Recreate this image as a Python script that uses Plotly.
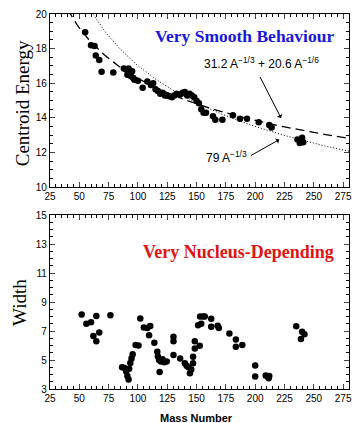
import plotly.graph_objects as go

# ---- data ----
centroid_A = [55, 60, 63, 64, 67, 69, 79,
              88, 90, 91, 92, 93, 94, 95, 96, 97, 100, 104,
              108, 111, 113, 115, 117, 119, 121, 123, 125, 127, 129, 131, 133,
              136, 138, 140, 142, 144, 146, 148, 150, 152, 154, 156, 158,
              164, 166, 172, 181, 187, 193, 203, 212, 214,
              236, 238, 240, 241]
centroid_E = [18.95, 18.2, 18.15, 17.6, 17.35, 16.67, 16.62,
              16.85, 16.8, 16.5, 16.85, 16.6, 16.4, 16.7, 16.3, 16.2, 16.15, 15.75,
              16.1, 15.9, 16.0, 15.65, 15.55, 15.4, 15.45, 15.3, 15.3, 15.25, 15.2, 15.3, 15.4,
              15.35, 15.45, 15.5, 15.3, 15.4, 15.3, 15.2, 15.0, 14.85, 14.5, 14.3, 14.3,
              14.1, 13.9, 13.9, 14.15, 13.95, 13.95, 13.75, 13.6, 13.45,
              12.75, 12.55, 12.85, 12.6]

width_A = [52, 56, 60, 62, 64.5, 64.5, 67, 76.5,
           86.5, 88.5, 90, 91, 92, 92.5, 93.5, 94.5, 95.5, 98, 100.5,
           102, 105, 108, 110.5, 109.5, 114, 116.5, 117, 118, 119.5, 121, 122.5, 124.5, 118.5,
           130.3, 130.3, 130.3, 136,
           140, 141.5, 143, 144.3, 145.5, 147, 147, 148.5, 148.5, 151.3, 152.7, 154, 153, 155.5, 157,
           162.5, 162.5, 168, 169, 178, 183.5, 183.5, 189,
           200, 200, 209, 210.5, 211.5, 212,
           235, 240, 242, 239]
width_W = [8.14, 7.5, 7.6, 6.65, 8.03, 6.3, 6.9, 8.08,
           4.5, 4.45, 4.2, 3.9, 3.65, 4.4, 4.8, 5.1, 5.4, 6.03, 6.0,
           7.86, 7.24, 7.2, 7.35, 6.71, 6.19, 5.57, 5.25, 5.0, 4.9, 5.05, 4.85, 4.9, 4.18,
           6.6, 6.3, 5.34, 5.1,
           4.77, 4.6, 4.5, 4.09, 4.35, 4.77, 5.23, 5.8, 6.3, 7.4, 5.98, 7.5, 8.0, 8.0, 8.0,
           7.85, 7.3, 7.37, 7.2, 6.83, 6.42, 5.91, 6.03,
           4.62, 3.86, 3.93, 3.86, 3.75, 3.9,
           7.33, 6.94, 6.78, 6.44]

# fit-curve coefficients as printed on the chart
fit_a, fit_b = 31.2, 20.6      # 31.2 A^-1/3 + 20.6 A^-1/6
fit_c = 79                     # 79 A^-1/3
curve_A = list(range(40, 285, 2))

x_ticks = [25, 50, 75, 100, 125, 150, 175, 200, 225, 250, 275]
top_y_ticks = [10, 12, 14, 16, 18, 20]
bot_y_ticks = [3, 5, 7, 9, 11, 13, 15]

# ---- figure ----
dashed = [fit_a * a ** (-1 / 3) + fit_b * a ** (-1 / 6) for a in curve_A]
dotted = [fit_c * a ** (-1 / 3) for a in curve_A]

fig = go.Figure()
fig.add_trace(go.Scatter(x=curve_A, y=dashed, mode="lines",
                         line=dict(color="black", width=1.3, dash="9px,5px"),
                         xaxis="x", yaxis="y", showlegend=False, hoverinfo="skip"))
fig.add_trace(go.Scatter(x=curve_A, y=dotted, mode="lines",
                         line=dict(color="black", width=1, dash="1px,2px"),
                         xaxis="x", yaxis="y", showlegend=False, hoverinfo="skip"))
fig.add_trace(go.Scatter(x=centroid_A, y=centroid_E, mode="markers",
                         marker=dict(color="black", size=6.5),
                         xaxis="x", yaxis="y", showlegend=False))
fig.add_trace(go.Scatter(x=width_A, y=width_W, mode="markers",
                         marker=dict(color="black", size=6.5),
                         xaxis="x2", yaxis="y2", showlegend=False))

tickfont = dict(family="Liberation Sans, Arial, sans-serif", size=10, color="black")
xcommon = dict(range=[25, 280], tickvals=x_ticks, ticks="inside", ticklen=5,
               tickwidth=1, showline=True, linecolor="black", linewidth=1.3,
               mirror="ticks", showgrid=False, zeroline=False, tickfont=tickfont,
               minor=dict(dtick=5, tick0=25, ticks="inside", ticklen=3,
                          tickcolor="black", showgrid=False))
ycommon = dict(ticks="inside", ticklen=5, tickwidth=1, showline=True,
               linecolor="black", linewidth=1.3, mirror="ticks", showgrid=False,
               zeroline=False, tickfont=tickfont)

fig.update_layout(
    width=360, height=423,
    margin=dict(l=50, r=8, t=10, b=34),
    paper_bgcolor="white", plot_bgcolor="white",
    xaxis=dict(domain=[0, 1], anchor="y", **xcommon),
    yaxis=dict(domain=[0.538, 1.0], anchor="x", range=[10, 20],
               tickvals=top_y_ticks,
               minor=dict(dtick=0.5, ticks="inside", ticklen=3,
                          tickcolor="black", showgrid=False),
               **ycommon),
    xaxis2=dict(domain=[0, 1], anchor="y2", **xcommon),
    yaxis2=dict(domain=[0.0, 0.464], anchor="x2", range=[3, 15],
                tickvals=bot_y_ticks,
                minor=dict(dtick=0.5, ticks="inside", ticklen=3,
                           tickcolor="black", showgrid=False),
                **ycommon),
)

serif = "Liberation Serif, Times New Roman, serif"
sans = "Liberation Sans, Arial, sans-serif"
anns = [
    dict(text="Centroid Energy", xref="paper", yref="paper", x=-0.093, y=0.7625,
         xanchor="center", yanchor="middle",
         textangle=-90, showarrow=False, font=dict(family=serif, size=19, color="black")),
    dict(text="Width", xref="paper", yref="paper", x=-0.100, y=0.2296,
         xanchor="center", yanchor="middle",
         textangle=-90, showarrow=False, font=dict(family=serif, size=19, color="black")),
    dict(text="<b>Mass Number</b>", xref="paper", yref="paper", x=0.49, y=-0.078,
         xanchor="center", yanchor="middle", showarrow=False,
         font=dict(family=sans, size=11, color="black")),
    dict(text="<b>Very Smooth Behaviour</b>", xref="x", yref="y", x=191, y=18.72,
         xanchor="center", yanchor="middle",
         showarrow=False, font=dict(family=serif, size=17.5, color="#1818dc")),
    dict(text="<b>Very Nucleus-Depending</b>", xref="x2", yref="y2", x=186, y=12.45,
         xanchor="center", yanchor="middle",
         showarrow=False, font=dict(family=serif, size=18, color="#e01414")),
    dict(text="31.2 A<sup>\u22121/3</sup> + 20.6 A<sup>\u22121/6</sup>", xref="x", yref="y",
         x=155, y=17.15, xanchor="left", yanchor="middle", showarrow=False,
         font=dict(family=sans, size=12, color="black")),
    dict(text="79 A<sup>\u22121/3</sup>", xref="x", yref="y",
         x=156.5, y=11.72, xanchor="left", yanchor="middle", showarrow=False,
         font=dict(family=sans, size=12, color="black")),
    dict(text="", xref="x", yref="y", x=222, y=14.0, ax=203.5, ay=16.45,
         axref="x", ayref="y", showarrow=True, arrowhead=1, arrowsize=1,
         arrowwidth=1, arrowcolor="black"),
    dict(text="", xref="x", yref="y", x=220.5, y=12.75, ax=195, ay=11.78,
         axref="x", ayref="y", showarrow=True, arrowhead=1, arrowsize=1,
         arrowwidth=1, arrowcolor="black"),
]
fig.update_layout(annotations=anns)

fig.write_html("out.html", config={"displayModeBar": False},
               post_script="document.body.style.margin='0';"
                           "document.body.style.overflow='hidden';")
